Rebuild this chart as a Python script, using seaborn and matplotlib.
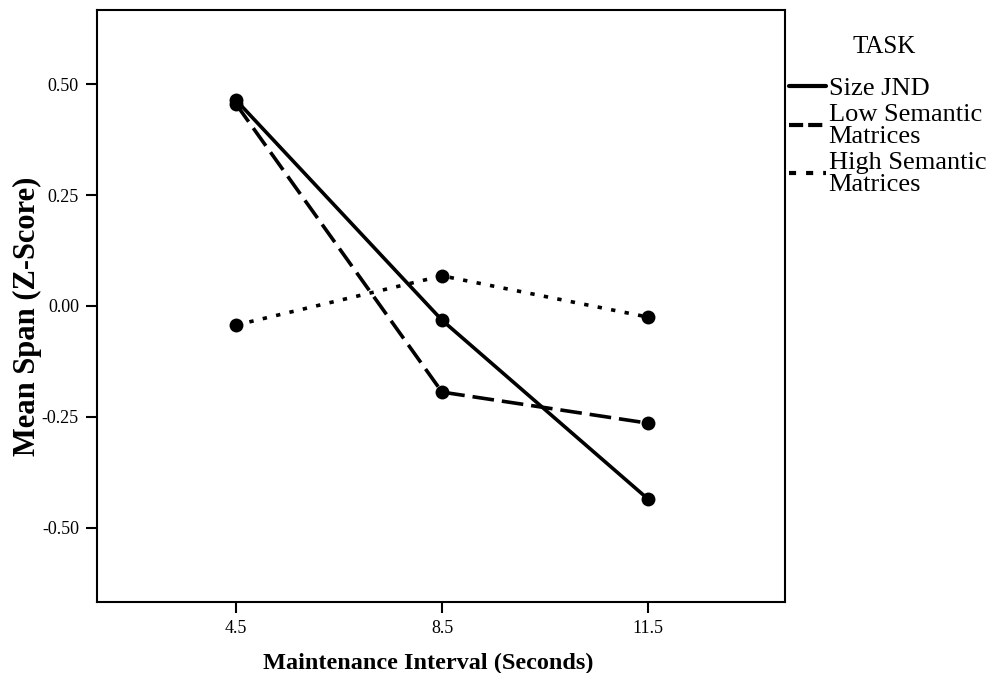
import pandas as pd
import numpy as np
import seaborn as sns
import matplotlib.pyplot as plt
from matplotlib.lines import Line2D

intervals = ['4.5', '8.5', '11.5']
tasks = ['Size JND', 'Low Semantic\nMatrices', 'High Semantic\nMatrices']
size_jnd = [0.464, -0.032, -0.435]
low_sem = [0.455, -0.194, -0.264]
high_sem = [-0.043, 0.068, -0.025]

df = pd.DataFrame({
    'interval': intervals * 3,
    'task': np.repeat(tasks, 3),
    'span': size_jnd + low_sem + high_sem,
})

sns.set_style('ticks')
plt.rcParams['font.family'] = ['Liberation Serif', 'DejaVu Serif']
plt.rcParams['text.color'] = 'black'
plt.rcParams['axes.labelcolor'] = 'black'
plt.rcParams['xtick.color'] = 'black'
plt.rcParams['ytick.color'] = 'black'
plt.rcParams['axes.edgecolor'] = 'black'

fig = plt.figure(figsize=(9.94, 6.73), dpi=100)
ax = fig.add_axes([97 / 994, 71 / 673, 688 / 994, 592 / 673])

dash_styles = {tasks[0]: '', tasks[1]: (6, 2.2), tasks[2]: (1.2, 2.6)}
sns.lineplot(data=df, x='interval', y='span', hue='task', style='task',
             palette=['black'] * 3, dashes=dash_styles, markers=['o'] * 3,
             markersize=10, linewidth=2.6, markeredgewidth=0, ax=ax,
             legend=False, sort=False)

ax.set_xlim(-0.675, 2.665)
ax.set_ylim(-0.667, 0.667)
ax.set_yticks([-0.5, -0.25, 0, 0.25, 0.5])
ax.set_yticklabels(['-0.50', '-0.25', '0.00', '0.25', '0.50'])
ax.tick_params(axis='both', labelsize=13, length=8, width=1.5, pad=5)
for s in ax.spines.values():
    s.set_linewidth(1.5)
    s.set_visible(True)
ax.set_xlabel('Maintenance Interval (Seconds)', fontsize=17.5, fontweight='bold')
ax.set_ylabel('Mean Span (Z-Score)', fontsize=22, fontweight='bold')
ax.xaxis.set_label_coords(0.481, -0.086)
ax.yaxis.set_label_coords(-0.08, 0.483)

handles = [
    Line2D([], [], color='black', lw=3, ls='-'),
    Line2D([], [], color='black', lw=3, ls=(0, (3.4, 1.2))),
    Line2D([], [], color='black', lw=3, ls=(0, (1.7, 2.4))),
]
fig.text(884 / 994, 1 - 47 / 673, 'TASK', ha='center', va='center', fontsize=18)
leg = fig.legend(handles, tasks, loc='upper left',
                 bbox_to_anchor=(789 / 994, 1 - 77 / 673), frameon=False, fontsize=19,
                 handlelength=1.4, handletextpad=0.1,
                 borderaxespad=0, borderpad=0, labelspacing=0.14)
for t in leg.get_texts():
    t.set_linespacing(1.0)

fig.savefig('out.png', dpi=100)
